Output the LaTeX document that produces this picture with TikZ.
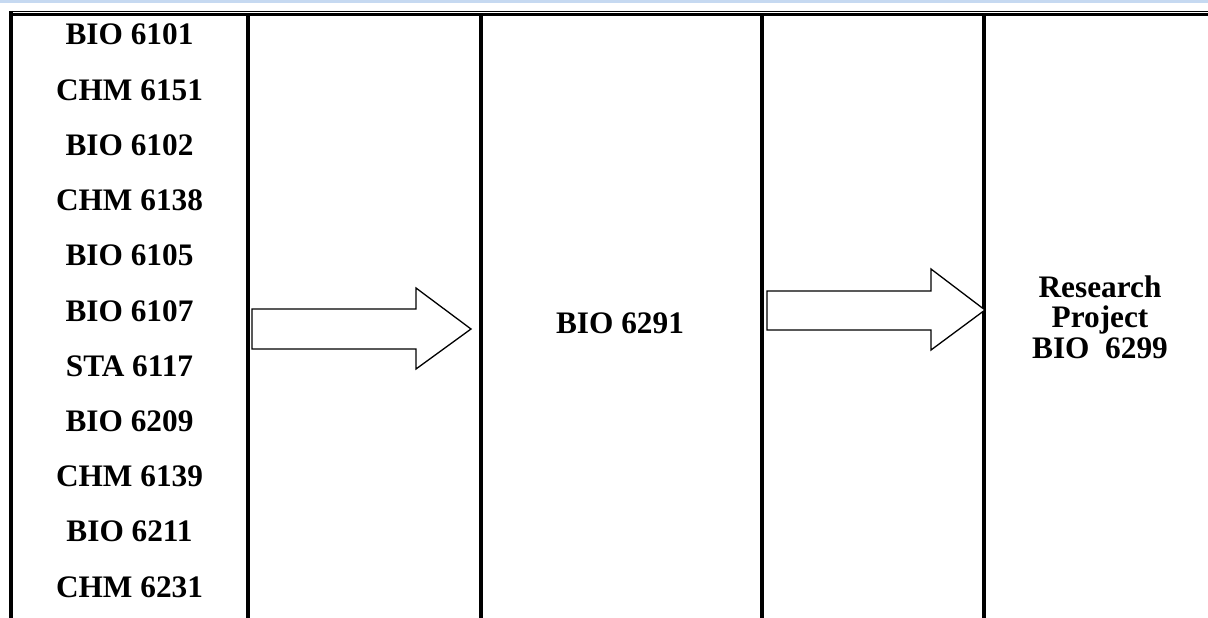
\documentclass[tikz,border=0pt]{standalone}
\usepackage{fontspec}
\setmainfont{Liberation Serif}
\definecolor{bandblue}{RGB}{198,217,241}
\begin{document}
\begin{tikzpicture}[x=1pt,y=-1pt,
  course/.style={font=\fontsize{31.3}{36}\selectfont\bfseries, anchor=base, inner sep=0pt},
  rule/.style={line width=4pt},
  flowarrow/.style={draw=black, line width=1.3pt, fill=white, line join=miter}]
\useasboundingbox (0,0) rectangle (1208,618);

% light band along the top edge
\fill[bandblue] (0,0) rectangle (1208,3.5);

% top border: thin rule over a heavier one
\draw[line width=1.2pt] (9,11.6) -- (1208,11.6);
\draw[line width=3pt] (9,14.2) -- (1208,14.2);

% column rules
\draw[rule] (11,11) -- (11,618);
\foreach \cx in {248,481,761.5,983.5}
  \draw[rule] (\cx,14) -- (\cx,618);

% first column: course list
\foreach \code [count=\i from 0] in {BIO 6101,CHM 6151,BIO 6102,CHM 6138,BIO 6105,BIO 6107,STA 6117,BIO 6209,CHM 6139,BIO 6211,CHM 6231}
  \node[course] (c\i) at (129.5,{45+55.2*\i}) {\code};

% block arrows
\draw[flowarrow] (252,309) -- (416,309) -- (416,288) -- (471,329) -- (416,369)
  -- (416,349) -- (252,349) -- cycle;
\draw[flowarrow] (767,291) -- (931,291) -- (931,269) -- (985,310) -- (931,350)
  -- (931,330) -- (767,330) -- cycle;

% middle and last columns
\node[course] (mid) at (620,333) {BIO 6291};
\node[course] (res1) at (1100,297) {Research};
\node[course] (res2) at (1100,327.5) {Project};
\node[course] (res3) at (1100,358.5) {BIO\ \ 6299};
\end{tikzpicture}
\end{document}
